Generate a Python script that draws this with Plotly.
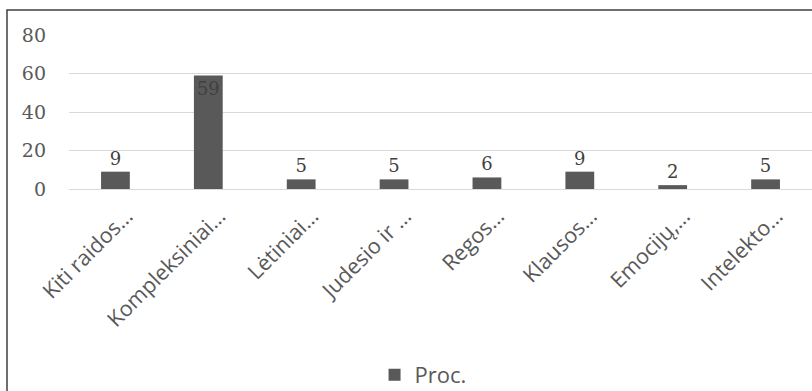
import plotly.graph_objects as go

categories = ["Kiti raidos…", "Kompleksiniai…", "Lėtiniai…", "Judesio ir …",
              "Regos…", "Klausos…", "Emocijų,…", "Intelekto…"]
values = [9, 59, 5, 5, 6, 9, 2, 5]
series_name = "Proc."
y_ticks = [0, 20, 40, 60, 80]

text_pos = ["inside" if v > 50 else "outside" for v in values]

fig = go.Figure()
fig.add_trace(go.Bar(
    x=categories, y=values, name=series_name,
    marker=dict(color="#595959", line=dict(width=0)),
    width=0.31,
    text=[str(v) for v in values],
    textposition=text_pos,
    insidetextanchor="end",
    textangle=0,
    textfont=dict(family="DejaVu Serif", size=18, color="#404040"),
    insidetextfont=dict(family="DejaVu Serif", size=18, color="#404040"),
    outsidetextfont=dict(family="DejaVu Serif", size=18, color="#404040"),
    cliponaxis=False,
))

fig.update_layout(
    width=812, height=391,
    margin=dict(l=69, r=0, t=35, b=202, autoexpand=False),
    paper_bgcolor="white", plot_bgcolor="white",
    showlegend=True,
    legend=dict(orientation="h", xref="container", yref="container",
                x=0.521, xanchor="center", y=0.041, yanchor="middle",
                font=dict(family="Open Sans", size=22, color="#595959"),
                itemwidth=30),
    bargap=0.69,
    shapes=[dict(type="rect", xref="paper", yref="paper",
                 x0=(7 - 69) / 743, x1=(830 - 69) / 743,
                 y0=(189 - 420) / 154, y1=(189 - 10) / 154,
                 line=dict(color="#404040", width=1.5), fillcolor="rgba(0,0,0,0)", layer="below")],
)
fig.update_xaxes(
    tickangle=-45,
    tickfont=dict(family="Open Sans", size=21.5, color="#595959"),
    showline=True, linecolor="#d9d9d9", linewidth=1,
    ticks="", showgrid=False, automargin=False,
    ticklabelshift=11, ticklabelstandoff=5,
)
fig.update_yaxes(
    range=[0, 80], tickvals=y_ticks,
    tickfont=dict(family="DejaVu Serif", size=19, color="#595959"),
    showgrid=True, gridcolor="#d9d9d9", gridwidth=1,
    zeroline=False, showline=False, ticks="", automargin=False,
    ticklabelstandoff=22,
)
fig.write_html("out.html")
